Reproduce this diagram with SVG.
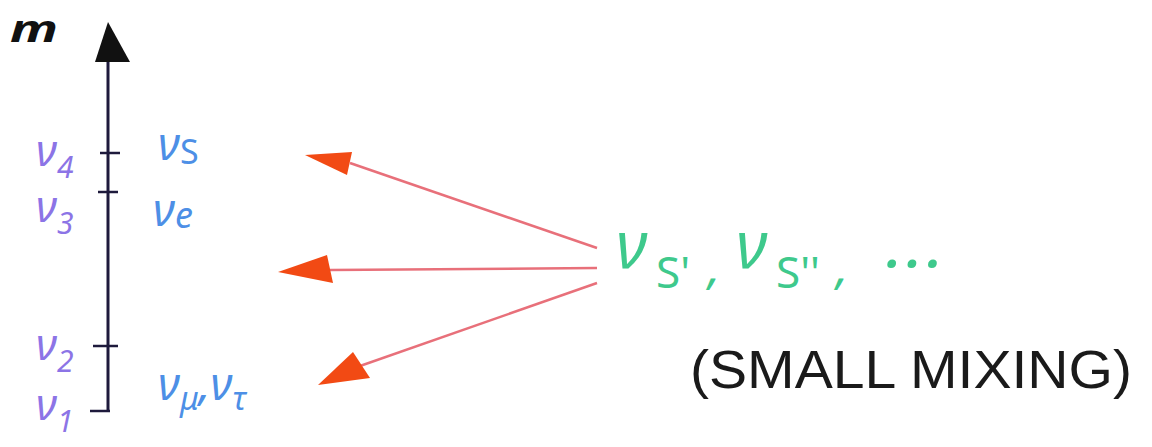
<svg xmlns="http://www.w3.org/2000/svg" width="1152" height="447" viewBox="0 0 1152 447">
<style>
.lab{font-family:"Noto Sans","DejaVu Sans",sans-serif;font-style:italic}
.pur{fill:#8c74e6}
.blu{fill:#4d8fe6}
.grn{fill:#3ec98c}
.tick{stroke:#1e1a3c;stroke-width:2.5}
.conn{stroke:#e8707a;stroke-width:2.5;fill:none}
.head{fill:#f24a14}
</style>
<rect width="1152" height="447" fill="#ffffff"/>
<g id="axis">
<line x1="108" y1="58" x2="108" y2="412" stroke="#1e1a3c" stroke-width="3"/>
<polygon points="108,22 95,62 130,62" fill="#111"/>
<text x="10" y="42" font-family="Noto Sans, sans-serif" font-style="italic" font-weight="bold" font-size="38" fill="#111" textLength="48" lengthAdjust="spacingAndGlyphs">m</text>
<line class="tick" x1="100" y1="153" x2="120" y2="153"/>
<line class="tick" x1="98" y1="192" x2="118" y2="192"/>
<line class="tick" x1="93" y1="346" x2="118" y2="346"/>
<line class="tick" x1="90" y1="411" x2="110" y2="411"/>
</g>
<g id="mass-labels" class="lab pur">
<text x="36" y="166" font-size="44">ν<tspan font-size="30" dy="12">4</tspan></text>
<text x="36" y="222" font-size="44">ν<tspan font-size="30" dy="12">3</tspan></text>
<text x="36" y="360" font-size="44">ν<tspan font-size="30" dy="12">2</tspan></text>
<text x="36" y="420" font-size="44">ν<tspan font-size="30" dy="12">1</tspan></text>
</g>
<g id="flavour-labels" class="lab blu">
<text x="158" y="160" font-size="46">ν<tspan font-size="34" dy="4" font-style="normal">S</tspan></text>
<text x="153" y="226" font-size="46">ν<tspan font-size="36" dy="2">e</tspan></text>
<text x="158" y="400" font-size="46">ν<tspan font-size="32" dy="10">μ</tspan><tspan dy="-10">,</tspan>ν<tspan font-size="32" dy="10">τ</tspan></text>
</g>
<g id="sterile" class="lab grn">
<text x="616" y="268" font-size="66">ν<tspan x="656" font-size="44" dy="20" font-style="normal">S'</tspan><tspan x="708" dy="-4" font-size="48">,</tspan><tspan x="736" dy="-16">ν</tspan><tspan x="776" font-size="44" dy="20" font-style="normal">S''</tspan><tspan x="836" font-size="48" dy="-4">,</tspan><tspan x="884" font-size="50" dy="-2" font-weight="bold" letter-spacing="6">···</tspan></text>
</g>
<g id="note">
<text x="690" y="388" font-family="Liberation Sans, Arial, sans-serif" font-size="54" fill="#1a1a1a" textLength="442" lengthAdjust="spacingAndGlyphs">(SMALL MIXING)</text>
</g>
<g id="connectors">
<line class="conn" x1="597" y1="248" x2="350" y2="163"/>
<line class="conn" x1="597" y1="268" x2="330" y2="270"/>
<line class="conn" x1="597" y1="283" x2="360" y2="366"/>
<polygon class="head" points="305,155 352,152 347,175"/>
<polygon class="head" points="278,272 327,255 333,283"/>
<polygon class="head" points="318,385 353,352 370,378"/>
</g>
</svg>
